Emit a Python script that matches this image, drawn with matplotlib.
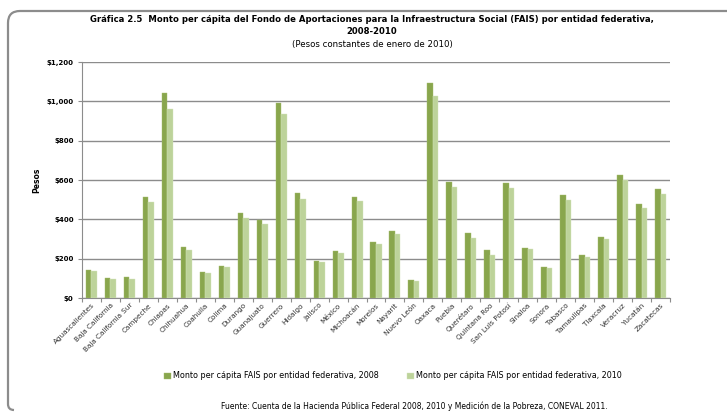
import numpy as np
import matplotlib
matplotlib.use("Agg")
import matplotlib.pyplot as plt
from matplotlib.patches import PathPatch
from matplotlib.path import Path
from matplotlib.ticker import FixedLocator, FuncFormatter

plt.rcParams.update({
    "font.family": "sans-serif",
    "font.sans-serif": ["DejaVu Sans"],
})

estados = ["Aguascalientes", "Baja California", "Baja California Sur", "Campeche",
           "Chiapas", "Chihuahua", "Coahuila", "Colima", "Durango", "Guanajuato",
           "Guerrero", "Hidalgo", "Jalisco", "México", "Michoacán", "Morelos",
           "Nayarit", "Nuevo León", "Oaxaca", "Puebla", "Querétaro", "Quintana Roo",
           "San Luis Potosí", "Sinaloa", "Sonora", "Tabasco", "Tamaulipas",
           "Tlaxcala", "Veracruz", "Yucatán", "Zacatecas"]

fais_2008 = [144, 101, 108, 516, 1041, 260, 130, 164, 432, 399,
             992, 533, 189, 237, 514, 283, 342, 93, 1092, 591,
             328, 244, 587, 255, 159, 525, 218, 311, 626, 476, 555]
fais_2010 = [135, 95, 98, 487, 963, 245, 125, 160, 406, 377,
             936, 504, 181, 227, 494, 276, 323, 84, 1026, 564,
             303, 220, 560, 247, 154, 498, 210, 300, 601, 459, 528]

serie_2008 = "Monto per cápita FAIS por entidad federativa, 2008"
serie_2010 = "Monto per cápita FAIS por entidad federativa, 2010"

c2008 = "#89a64d"
c2010 = "#bdd39a"

fig = plt.figure(figsize=(7.27, 4.12), dpi=100)
W, H = 727, 412

# frame: top and left edges with rounded corners (inches, from pixel positions)
def px(xp, yp):
    return (xp / 100.0, (H - yp) / 100.0)

r = 12
verts = [px(W + 5, 11), px(8 + r, 11), px(8, 11), px(8, 11 + r),
         px(8, 410 - 6), px(8, 410), px(8 + 6, 410)]
codes = [Path.MOVETO, Path.LINETO, Path.CURVE3, Path.CURVE3,
         Path.LINETO, Path.CURVE3, Path.CURVE3]
frame = PathPatch(Path(verts, codes), transform=fig.dpi_scale_trans,
                  fill=False, edgecolor="#8c8c8c", lw=1.6)
fig.add_artist(frame)

ax = fig.add_axes([82 / W, 1 - 298 / H, (670 - 82) / W, (298 - 62) / H])

x = np.arange(len(estados))
bw = 0.29
ax.bar(x - bw / 2, fais_2008, bw, color=c2008, edgecolor="#a4bd6c", lw=0.3,
       label=serie_2008, zorder=3)
ax.bar(x + bw / 2, fais_2010, bw, color=c2010, edgecolor="#d5e4bd", lw=0.3,
       label=serie_2010, zorder=3)

ax.set_xlim(-0.5, len(estados) - 0.5)
ax.set_ylim(0, 1200)
ax.set_yticks(np.arange(0, 1201, 200))
ax.yaxis.set_major_formatter(FuncFormatter(lambda v, p: "${:,.0f}".format(v)))
ax.yaxis.grid(True, color="#8c8c8c", lw=1.0, zorder=0)

ax.set_xticks(x)
ax.set_xticklabels(estados, rotation=45, ha="right", rotation_mode="anchor",
                   fontsize=5.2, color="#333333")
ax.tick_params(axis="x", which="major", length=0, pad=3)
ax.xaxis.set_minor_locator(FixedLocator(np.arange(-0.5, len(estados), 1)))
ax.tick_params(axis="x", which="minor", length=3, color="#8c8c8c", width=0.8)
ax.tick_params(axis="y", length=3, color="#8c8c8c", width=0.8, labelsize=5, pad=3)
for lab in ax.get_yticklabels():
    lab.set_fontweight("bold")

for s in ["top", "right"]:
    ax.spines[s].set_visible(False)
ax.spines["left"].set_color("#8c8c8c")
ax.spines["bottom"].set_color("#8c8c8c")

ax.set_ylabel("Pesos", fontsize=5.5, fontweight="bold", labelpad=4)

fig.text(372 / W, 1 - 20 / H,
         "Gráfica 2.5  Monto per cápita del Fondo de Aportaciones para la Infraestructura Social (FAIS) por entidad federativa,",
         ha="center", va="center", fontsize=6.15, fontweight="bold")
fig.text(372 / W, 1 - 32 / H, "2008-2010", ha="center", va="center",
         fontsize=6.15, fontweight="bold")
fig.text(372 / W, 1 - 44 / H, "(Pesos constantes de enero de 2010)",
         ha="center", va="center", fontsize=6.2)

fig.legend(loc="center", bbox_to_anchor=(393 / W, 1 - 376 / H), ncol=2,
           frameon=False, fontsize=5.8, handlelength=0.8, handleheight=0.8,
           handletextpad=0.3, columnspacing=3.5)

fig.text(414 / W, 1 - 406 / H,
         "Fuente: Cuenta de la Hacienda Pública Federal 2008, 2010 y Medición de la Pobreza, CONEVAL 2011.",
         ha="center", va="center", fontsize=5.5)

fig.savefig("out.png", dpi=100)
